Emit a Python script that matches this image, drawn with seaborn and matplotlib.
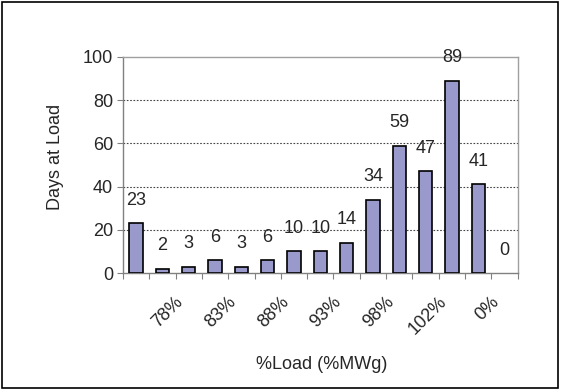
import matplotlib
matplotlib.use("Agg")
import matplotlib.pyplot as plt
import seaborn as sns
import numpy as np
from matplotlib.patches import Rectangle

# data
categories = ["73%", "76%", "78%", "81%", "83%", "86%", "88%", "91%",
              "93%", "96%", "98%", "100%", "102%", "105%", "0%"]
days = [23, 2, 3, 6, 3, 6, 10, 10, 14, 34, 59, 47, 89, 41, 0]

sns.set_style("white")
plt.rcParams['font.family'] = ['Liberation Sans', 'DejaVu Sans']

fig = plt.figure(figsize=(5.61, 3.9), dpi=100)
ax = fig.add_axes([0.219, 0.3, 0.704, 0.554])

x = np.arange(len(categories))
sns.barplot(x=x, y=days, color="#9999cc", saturation=1, width=0.5,
            edgecolor="black", linewidth=1.2, native_scale=True, ax=ax, zorder=3)
# excel draws nothing for an empty bar
for p in ax.patches:
    if p.get_height() == 0:
        p.set_linewidth(0)

ax.set_xlim(-0.5, len(categories) - 0.5)
ax.set_ylim(0, 100)
ax.set_yticks(range(0, 101, 20))
ax.tick_params(axis="y", labelsize=13, length=4, width=0.8, color="#808080", pad=3, direction="out", left=True)

# category labels every other bar (nudged left like excel), tick marks between bars
ax.set_xticks(x[2::2] - 0.3)
ax.set_xticklabels(categories[2::2], rotation=45, ha="right", va="center",
                   rotation_mode="anchor", fontsize=13)
ax.set_xticks(np.arange(-0.5, len(categories)), minor=True)
ax.tick_params(axis="x", which="major", length=0, pad=19)
ax.tick_params(axis="x", which="minor", length=4, width=0.8, color="#808080", direction="out", bottom=True)

for v in range(20, 100, 20):
    ax.axhline(v, color="#444444", linestyle=(0, (1.5, 1.5)), linewidth=0.8, zorder=1)

for s in ["top", "right"]:
    ax.spines[s].set_color("#a0a0a0")
    ax.spines[s].set_linewidth(1)
for s in ["left", "bottom"]:
    ax.spines[s].set_color("#808080")
    ax.spines[s].set_linewidth(1)

for xi, v in zip(x, days):
    ax.annotate(str(v), (xi, v), xytext=(0, 16.5), textcoords="offset points",
                ha="center", va="center", fontsize=13)

ax.set_ylabel("Days at Load", fontsize=13)
ax.yaxis.set_label_coords(-0.15, 0.537)
ax.set_xlabel("%Load (%MWg)", fontsize=13)
ax.xaxis.set_label_coords(0.504, -0.384)

fig.patches.append(Rectangle((0.003, 0.004), 0.992, 0.991, transform=fig.transFigure,
                             fill=False, edgecolor="black", linewidth=1.2))

fig.savefig("out.png", dpi=100)
